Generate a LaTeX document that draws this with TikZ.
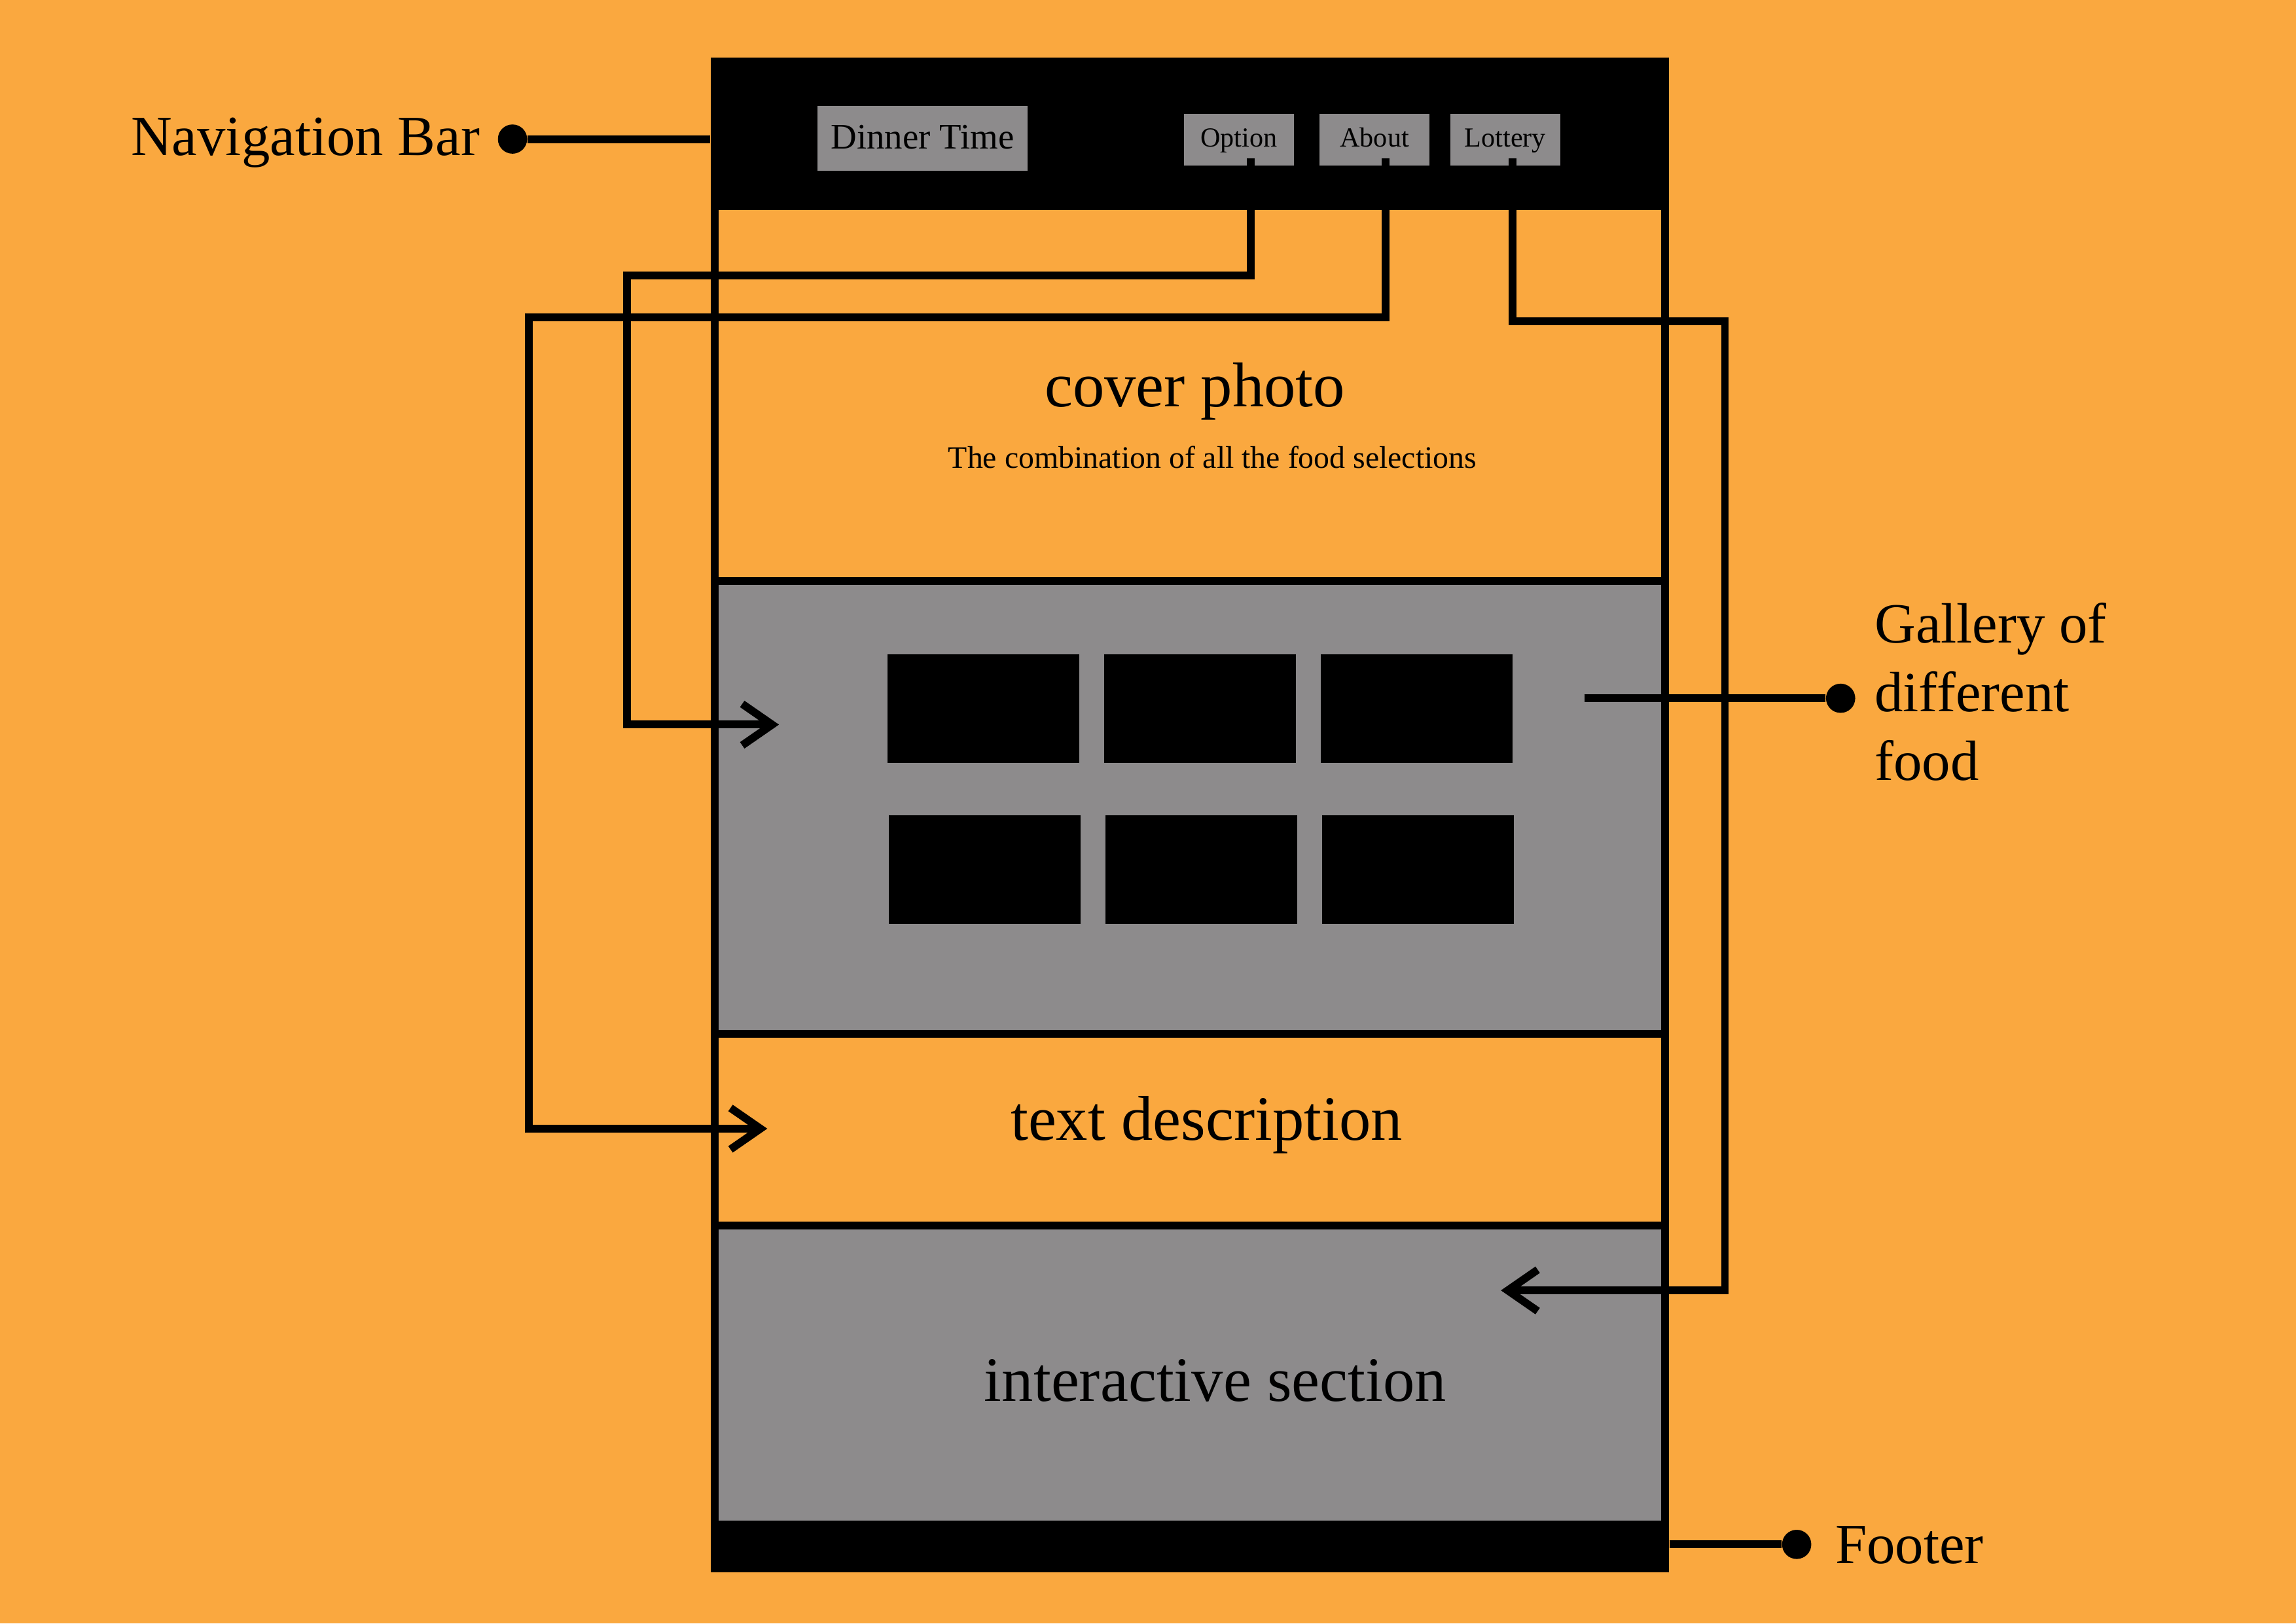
\documentclass[tikz,border=0pt]{standalone}
\usepackage{fontspec}
\setmainfont{Liberation Serif}
\usepackage{tikz}
\usetikzlibrary{arrows.meta}
\definecolor{bgorange}{RGB}{250,168,63}
\definecolor{panelgray}{RGB}{141,139,140}
\tikzset{
 wire/.style={line width=3.4pt},
 pointer/.style={wire,-{Straight Barb[length=13pt,width=18pt]}},
 tagdot/.style={circle,fill=black,inner sep=0pt,minimum size=12.7pt},
 navbtn/.style={fill=panelgray,inner sep=0pt,text height=7.6pt,text depth=1.5pt,minimum width=47.7pt,minimum height=22.4pt,font=\fontsize{12}{14}\selectfont},
 sectiontitle/.style={font=\fontsize{27.5}{33}\selectfont},
 callout/.style={font=\fontsize{24.7}{29.9}\selectfont,inner sep=0pt}
}
\begin{document}
\begin{tikzpicture}[x=0.022372cm,y=-0.022372cm]
 \useasboundingbox (0,0) rectangle (1568,1109);
 \fill[bgorange] (0,0) rectangle (1568,1109);
 \fill[panelgray] (488,397) rectangle (1137,706) (488,837) rectangle (1137,1040);
 \draw[wire] (488,143) -- (488,1040) (1137,143) -- (1137,1040) (488,397) -- (1137,397) (488,706) -- (1137,706) (488,837) -- (1137,837);
 \node[fill=black,inner sep=0pt,minimum width=416.6pt,minimum height=66.4pt] (navbar) at (812.5,91.4) {};
 \node[fill=black,inner sep=0pt,minimum width=416.6pt,minimum height=22.3pt] (footer) at (812.5,1056.5) {};
 \node[navbtn,minimum width=91.4pt,minimum height=28pt,text height=10pt,text depth=1.1pt,font=\fontsize{15.6}{18}\selectfont] (brand) at (630,94.6) {Dinner Time};
 \node[navbtn] (optbtn) at (846,95.4) {Option};
 \node[navbtn] (aboutbtn) at (938.7,95.4) {About};
 \node[navbtn] (lotbtn) at (1028,95.4) {Lottery};
 \foreach \x in {606,754,902} {
  \fill (\x,447) rectangle ++(131,74);
  \fill (\x+1,557) rectangle ++(131,74);
 }
 \node[sectiontitle,anchor=base] (covertitle) at (816,278) {cover photo};
 \node[font=\fontsize{13.6}{16}\selectfont,anchor=base] (coversub) at (828,320) {The combination of all the food selections};
 \node[sectiontitle,anchor=base] (texttitle) at (824,779) {text description};
 \node[sectiontitle,anchor=base] (intertitle) at (830,957) {interactive section};
 \coordinate (galleryin) at (532,495);
 \coordinate (textin) at (524,771);
 \coordinate (interin) at (1025,881.5);
 \draw[pointer] ([xshift=5.1pt,yshift=3.3pt]optbtn.south) |- (428,188) |- (galleryin);
 \draw[pointer] ([xshift=4.9pt,yshift=3.3pt]aboutbtn.south) |- (361,216.7) |- (textin);
 \draw[pointer] ([xshift=3.2pt,yshift=3.3pt]lotbtn.south) |- (1178,219.5) |- (interin);
 \node[tagdot] (navdot) at (350,95) {};
 \node[callout,anchor=base east] (navlabel) at (328,106) {Navigation Bar};
 \draw[wire] (navdot) -- (navdot -| navbar.west);
 \coordinate (gallerytag) at (1082,477);
 \node[tagdot] (gallerydot) at (1257,477) {};
 \node[callout,anchor=base west,align=left] (gallerylabel) at (1280,533) {Gallery of\\different\\food};
 \draw[wire] (gallerytag) -- (gallerydot);
 \node[tagdot] (footerdot) at (1227,1055) {};
 \node[callout,anchor=base west] (footerlabel) at (1253,1068) {Footer};
 \draw[wire] (footerdot -| footer.east) -- (footerdot);
\end{tikzpicture}
\end{document}
